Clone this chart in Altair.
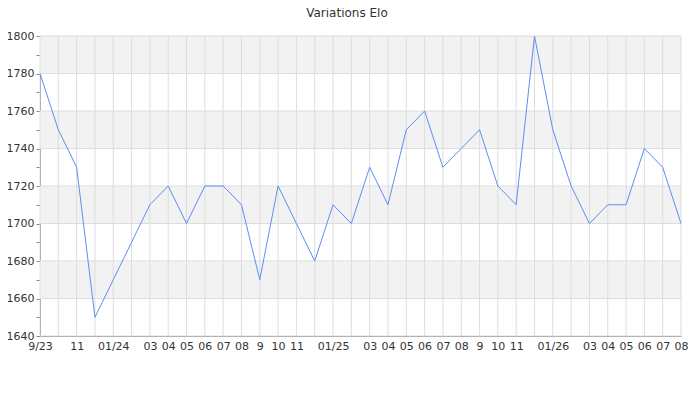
import altair as alt
import pandas as pd

# monthly Elo ratings, Sep 2023 .. Aug 2026
MONTH_INDEX = list(range(36))
ELO = [
    1780, 1750, 1730, 1650, 1670, 1690, 1710, 1720, 1700, 1720, 1720, 1710,
    1670, 1720, 1700, 1680, 1710, 1700, 1730, 1710, 1750, 1760, 1730, 1740,
    1750, 1720, 1710, 1800, 1750, 1720, 1700, 1710, 1710, 1740, 1730, 1700,
]
MONTH_LABELS = [
    "9/23", "", "11", "", "01/24", "", "03", "04", "05", "06", "07", "08",
    "9", "10", "11", "", "01/25", "", "03", "04", "05", "06", "07", "08",
    "9", "10", "11", "", "01/26", "", "03", "04", "05", "06", "07", "08",
]
Y_TICKS = list(range(1640, 1801, 10))
Y_GRID = list(range(1640, 1801, 20))
BAND_START = [1660, 1700, 1740, 1780]
BAND_END = [1680, 1720, 1760, 1800]

FONT = "DejaVu Sans"
LINE_COLOUR = "#5b8ff0"
GRID_COLOUR = "#dddddd"

df = pd.DataFrame({"mois": MONTH_INDEX, "elo": ELO})
bands = pd.DataFrame({"elo": BAND_START, "elo_fin": BAND_END})
vgrid = pd.DataFrame({"mois": MONTH_INDEX})
hgrid = pd.DataFrame({"elo": Y_GRID})

label_array = "[" + ",".join(f"'{s}'" for s in MONTH_LABELS) + "]"

x_scale = alt.Scale(domain=[0, 35], nice=False, zero=False)
y_scale = alt.Scale(domain=[1640, 1800], nice=False, zero=False)

x_axis = alt.Axis(
    values=MONTH_INDEX,
    labelExpr=f"{label_array}[datum.value]",
    grid=False,
    ticks=False,
    domainColor="#888888",
    labelColor="#333333",
    labelFont=FONT,
    labelFontSize=11,
    labelPadding=4,
    labelOverlap=False,
    labelFlush=False,
)
y_axis = alt.Axis(
    values=Y_TICKS,
    labelExpr="datum.value % 20 == 0 ? datum.label : ''",
    format="d",
    grid=False,
    tickColor="#888888",
    tickSize=4,
    domainColor="#888888",
    labelColor="#333333",
    labelFont=FONT,
    labelFontSize=11,
    labelPadding=2,
    labelOverlap=False,
    labelFlush=False,
)

x_enc = alt.X("mois:Q", scale=x_scale, title=None, axis=x_axis)
y_enc = alt.Y("elo:Q", scale=y_scale, title=None, axis=y_axis)

band_layer = (
    alt.Chart(bands)
    .mark_rect(color="#f2f2f2")
    .encode(y=y_enc, y2="elo_fin:Q", x=alt.value(0), x2=alt.value(641))
)

vgrid_layer = (
    alt.Chart(vgrid)
    .mark_rule(color=GRID_COLOUR, strokeWidth=1)
    .encode(x=x_enc)
)

hgrid_layer = (
    alt.Chart(hgrid)
    .mark_rule(color=GRID_COLOUR, strokeWidth=1)
    .encode(y=y_enc)
)

line_layer = (
    alt.Chart(df)
    .mark_line(color=LINE_COLOUR, strokeWidth=1)
    .encode(x=x_enc, y=y_enc)
)

chart = (
    alt.layer(band_layer, vgrid_layer, hgrid_layer, line_layer)
    .properties(
        width=641,
        height=300,
        autosize=alt.AutoSizeParams(type="none"),
        padding={"left": 32, "top": 28, "right": 11, "bottom": 56},
        title=alt.TitleParams(
            "Variations Elo",
            font=FONT,
            fontSize=12,
            fontWeight="normal",
            color="#333333",
            anchor="middle",
            frame="bounds",
            offset=10,
        ),
    )
    .configure_view(stroke=None)
)

chart.save("out.html", embed_options={"renderer": "svg", "actions": False})
